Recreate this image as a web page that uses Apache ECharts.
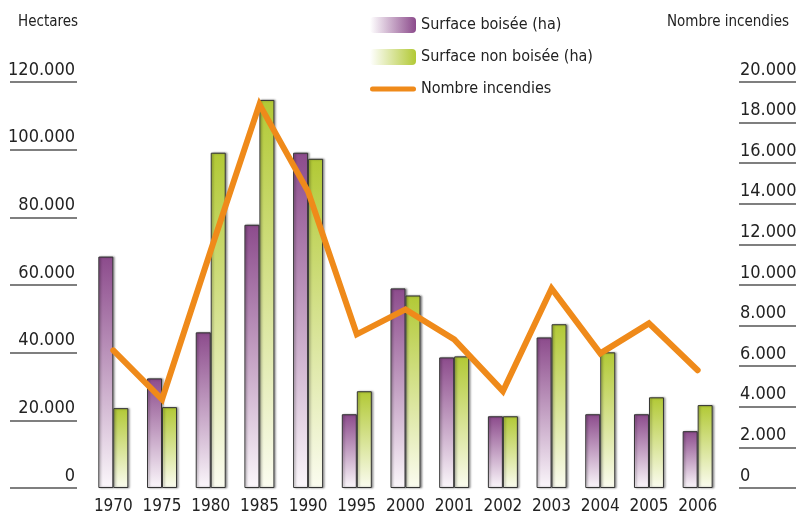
<!DOCTYPE html>
<html>
<head>
<meta charset="utf-8">
<script src="https://cdn.jsdelivr.net/npm/echarts@6/dist/echarts.min.js"></script>
<style>
html,body{margin:0;padding:0;background:#fff;}
#c{width:796px;height:518px;}
</style>
</head>
<body>
<div id="c"></div>
<script>
const years = ['1970','1975','1980','1985','1990','1995','2000','2001','2002','2003','2004','2005','2006'];
const surfaceBoisee = [68400, 32400, 46000, 77800, 99100, 21800, 59000, 38600, 21200, 44500, 21800, 21800, 16800];
const surfaceNonBoisee = [23600, 23900, 99100, 114700, 97300, 28600, 56900, 38900, 21200, 48400, 40100, 26800, 24500];
const nombreIncendies = [6780, 4370, 11700, 18900, 14600, 7570, 8800, 7320, 4770, 9830, 6630, 8110, 5800];
const seriesNames = ['Surface boisée (ha)', 'Surface non boisée (ha)', 'Nombre incendies'];
const leftTitle = 'Hectares';
const rightTitle = 'Nombre incendies';

const FONT = '"DejaVu Sans Condensed", "DejaVu Sans", sans-serif';
const fmt = v => v === 0 ? '0' : String(v).replace(/\B(?=(\d{3})+(?!\d))/g, '.');

const purpleV = new echarts.graphic.LinearGradient(0,0,0,1,[{offset:0,color:'#8c4b8c'},{offset:1,color:'#fbf7fb'}]);
const greenV = new echarts.graphic.LinearGradient(0,0,0,1,[{offset:0,color:'#b2c935'},{offset:1,color:'#fbfcf0'}]);
const purpleH = new echarts.graphic.LinearGradient(0,0,1,0,[{offset:0,color:'#ffffff'},{offset:1,color:'#8c4b8c'}]);
const greenH = new echarts.graphic.LinearGradient(0,0,1,0,[{offset:0,color:'#ffffff'},{offset:1,color:'#b2c935'}]);

const chart = echarts.init(document.getElementById('c'), null, {renderer:'canvas'});
const barStyle = {
  borderColor:'#333', borderWidth:1,
  shadowColor:'rgba(0,0,0,0.35)', shadowBlur:2, shadowOffsetX:1.5, shadowOffsetY:0
};
chart.setOption({
  animation:false,
  backgroundColor:'#ffffff',
  textStyle:{fontFamily:FONT},
  grid:{left:89, top:82, width:633, height:406, containLabel:false, outerBoundsMode:'none'},
  legend:{
    orient:'vertical', left:365, top:12, itemWidth:46, itemHeight:16, itemGap:16,
    textStyle:{fontFamily:FONT, fontSize:16, color:'#222'},
    data:[
      {name:seriesNames[0], itemStyle:{color:purpleH, borderWidth:0}},
      {name:seriesNames[1], itemStyle:{color:greenH, borderWidth:0}},
      {name:seriesNames[2], icon:'path://M2.5,0 L43.5,0 A2.5,2.5 0 0 1 43.5,5 L2.5,5 A2.5,2.5 0 0 1 2.5,0 Z',
       itemStyle:{color:'#ef8a1a', borderWidth:0}}
    ]
  },
  graphic:[
    {type:'text', left:18, top:15, style:{text:leftTitle, fill:'#222', font:'15px '+FONT}},
    {type:'text', right:7, top:15, style:{text:rightTitle, fill:'#222', font:'15px '+FONT}}
  ],
  xAxis:{
    type:'category', data:years,
    axisLine:{show:false}, axisTick:{show:false},
    axisLabel:{color:'#222', fontSize:17, fontFamily:FONT, margin:10, interval:0}
  },
  yAxis:[
    {
      type:'value', position:'left', min:0, max:120000, interval:20000, offset:12,
      axisLine:{show:false},
      axisTick:{show:true, length:67, lineStyle:{color:'#555', width:1.5}},
      splitLine:{show:false},
      axisLabel:{formatter:fmt, color:'#222', fontSize:18, fontFamily:FONT, margin:2, verticalAlign:'bottom', lineHeight:24}
    },
    {
      type:'value', position:'right', min:0, max:20000, interval:2000, offset:17,
      axisLine:{show:false},
      axisTick:{show:true, length:57, lineStyle:{color:'#555', width:1.5}},
      splitLine:{show:false},
      axisLabel:{formatter:fmt, color:'#222', fontSize:18, fontFamily:FONT, margin:1, verticalAlign:'bottom', align:'left', lineHeight:24}
    }
  ],
  series:[
    {name:seriesNames[0], type:'bar', data:surfaceBoisee, yAxisIndex:0, barWidth:15, barGap:'0%',
     itemStyle:Object.assign({color:purpleV}, barStyle)},
    {name:seriesNames[1], type:'bar', data:surfaceNonBoisee, yAxisIndex:0, barWidth:15, barGap:'0%',
     itemStyle:Object.assign({color:greenV}, barStyle)},
    {name:seriesNames[2], type:'line', data:nombreIncendies, yAxisIndex:1, symbol:'none', z:5,
     lineStyle:{color:'#ef8a1a', width:6, join:'miter', cap:'round'}, itemStyle:{color:'#ef8a1a'}}
  ]
});
</script>
</body>
</html>
